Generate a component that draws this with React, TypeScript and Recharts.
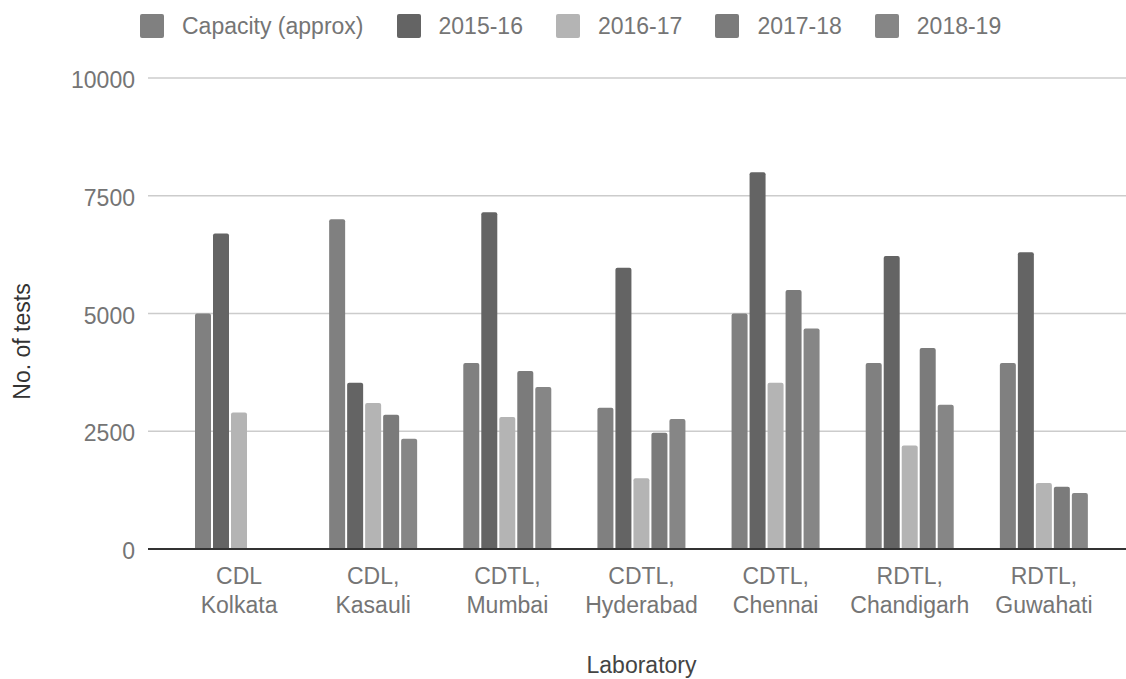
import { BarChart, Bar, XAxis, YAxis, CartesianGrid, Label } from 'recharts';

const labs = [
  'CDL Kolkata',
  'CDL, Kasauli',
  'CDTL, Mumbai',
  'CDTL, Hyderabad',
  'CDTL, Chennai',
  'RDTL, Chandigarh',
  'RDTL, Guwahati',
];

const capacity = [5000, 7000, 3950, 3000, 5000, 3950, 3950];
const y2015 = [6700, 3530, 7150, 5970, 8000, 6220, 6300];
const y2016 = [2900, 3100, 2800, 1500, 3530, 2200, 1400];
const y2017 = [null, 2850, 3780, 2470, 5500, 4270, 1320];
const y2018 = [null, 2340, 3440, 2760, 4680, 3060, 1190];

const yTicks = [0, 2500, 5000, 7500, 10000];

const series = [
  { key: 'capacity', name: 'Capacity (approx)', color: '#808080' },
  { key: 'y2015', name: '2015-16', color: '#646464' },
  { key: 'y2016', name: '2016-17', color: '#b4b4b4' },
  { key: 'y2017', name: '2017-18', color: '#7b7b7b' },
  { key: 'y2018', name: '2018-19', color: '#868686' },
];

const data = labs.map((lab, i) => ({
  lab,
  capacity: capacity[i],
  y2015: y2015[i],
  y2016: y2016[i],
  y2017: y2017[i],
  y2018: y2018[i],
}));

const FONT = '"Liberation Sans", Arial, sans-serif';
const PAD_L = 24;
const PAD_R = 15;

const XTick = ({ x, y, payload }: any) => {
  const s: string = payload.value;
  const idx = s.indexOf(' ');
  const first = s.slice(0, idx);
  const second = s.slice(idx + 1);
  return (
    <text x={x} y={y} textAnchor="middle" fill="#757575" fontSize={23} fontFamily={FONT}>
      <tspan x={x} dy={35}>{first}</tspan>
      <tspan x={x} dy={29}>{second}</tspan>
    </text>
  );
};

const YTick = ({ x, y, payload }: any) => (
  <text x={x} y={y} dy={10} textAnchor="end" fill="#757575" fontSize={23} fontFamily={FONT}>
    {payload.value}
  </text>
);

const Legend = () => (
  <div
    style={{
      position: 'absolute', left: 140, top: 13, display: 'flex',
      fontFamily: FONT, fontSize: 23, color: '#757575', lineHeight: '26px',
    }}
  >
    {series.map(s => (
      <div key={s.key} style={{ display: 'flex', alignItems: 'center', marginRight: 33 }}>
        <div style={{ width: 24, height: 24, background: s.color, borderRadius: 2, marginRight: 18 }} />
        <span>{s.name}</span>
      </div>
    ))}
  </div>
);

export default function App() {
  return (
    <div style={{ position: 'absolute', left: 0, top: 0, width: 1126, height: 679, background: '#fff' }}>
      <BarChart
        width={1126}
        height={679}
        data={data}
        margin={{ top: 78, right: 0, left: 0, bottom: 0 }}
        barSize={16}
        barGap={2}
      >
        <CartesianGrid vertical={false} stroke="#cccccc" strokeWidth={1.5} />
        <XAxis
          dataKey="lab"
          height={130}
          padding={{ left: PAD_L, right: PAD_R }}
          tickLine={false}
          tickSize={0}
          tickMargin={0}
          axisLine={{ stroke: '#333333', strokeWidth: 2 }}
          tick={<XTick />}
          interval={0}
        >
          <Label
            content={({ viewBox }: any) => {
              const cx = viewBox.x + PAD_L + (viewBox.width - PAD_L - PAD_R) / 2;
              return (
                <text x={cx} y={viewBox.y + 124} textAnchor="middle" fill="#444" fontSize={23} fontFamily={FONT}>
                  Laboratory
                </text>
              );
            }}
          />
        </XAxis>
        <YAxis
          width={148}
          domain={[0, 10000]}
          ticks={yTicks}
          axisLine={false}
          tickLine={false}
          tickSize={0}
          tickMargin={13}
          tick={<YTick />}
        >
          <Label
            content={({ viewBox }: any) => {
              const cx = viewBox.x + 30;
              const cy = viewBox.y + viewBox.height / 2 + 28;
              return (
                <text
                  x={cx}
                  y={cy}
                  transform={`rotate(-90, ${cx}, ${cy})`}
                  textAnchor="middle"
                  fill="#333"
                  fontSize={23}
                  fontFamily={FONT}
                >
                  No. of tests
                </text>
              );
            }}
          />
        </YAxis>
        {series.map(s => (
          <Bar
            key={s.key}
            dataKey={s.key}
            name={s.name}
            fill={s.color}
            radius={[2, 2, 0, 0]}
            isAnimationActive={false}
          />
        ))}
      </BarChart>
      <Legend />
    </div>
  );
}
